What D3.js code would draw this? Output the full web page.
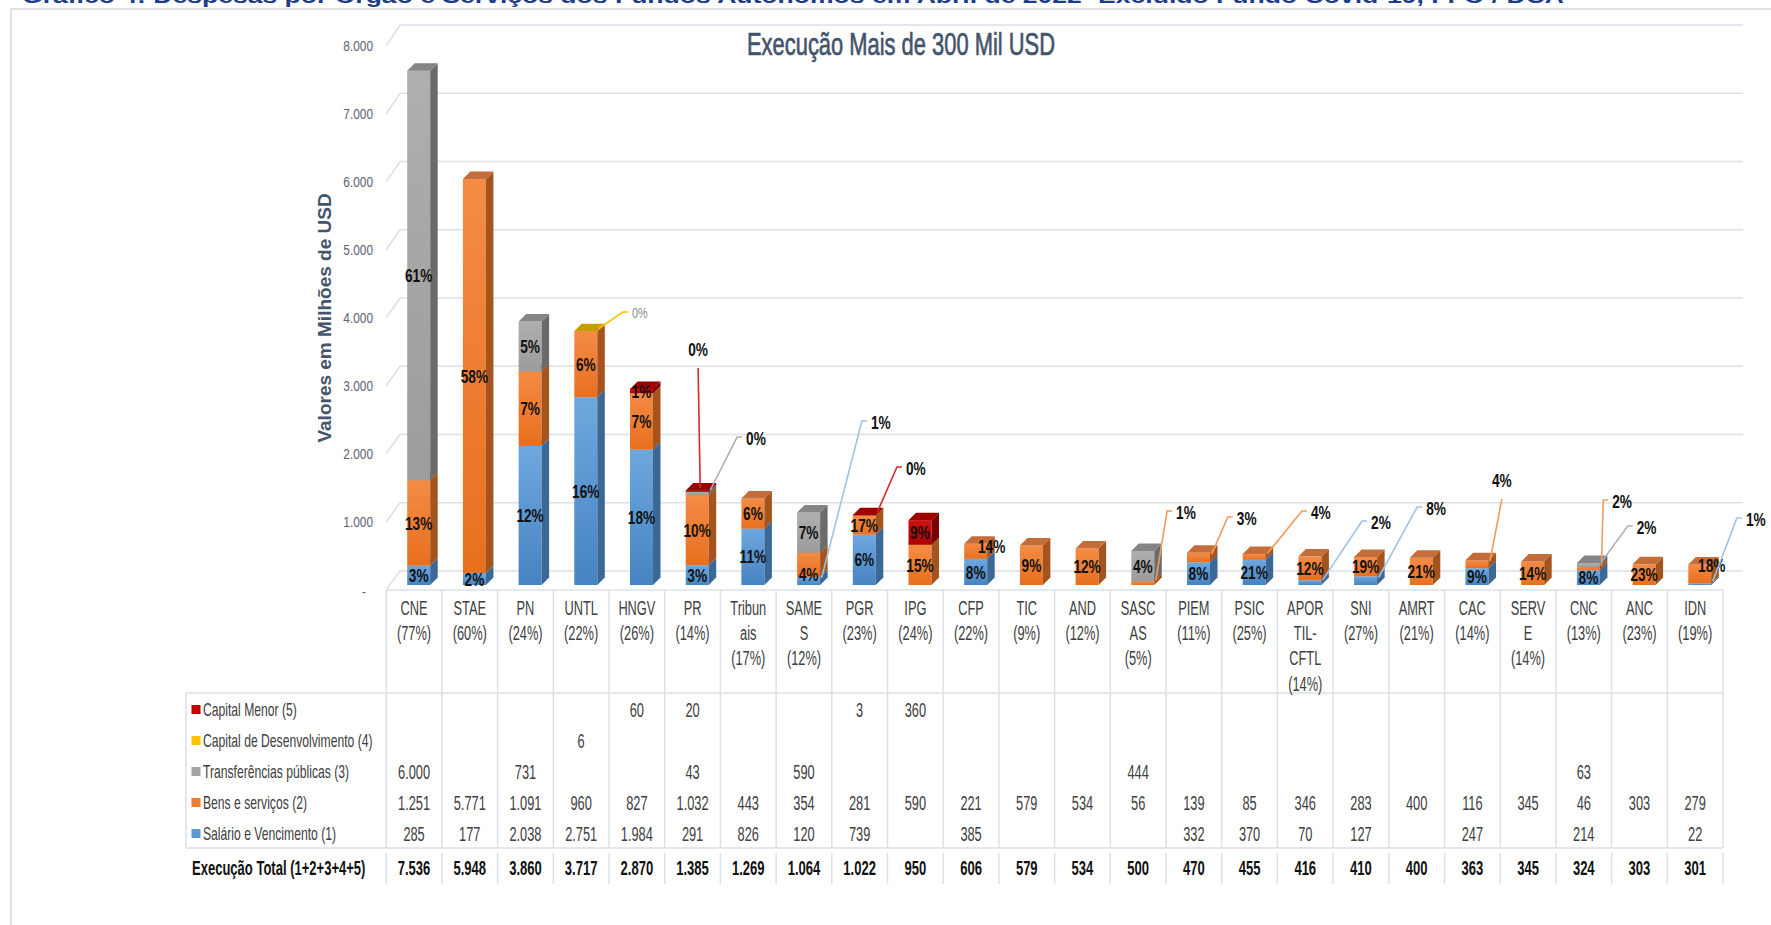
<!DOCTYPE html>
<html>
<head>
<meta charset="utf-8">
<script src="https://cdn.jsdelivr.net/npm/d3@7/dist/d3.min.js"></script>
<style>
  body { margin: 0; background: #fff; }
  svg { display: block; }
  .narrow, .wide { font-family: "Liberation Sans", Arial, sans-serif; }
</style>
</head>
<body>
<div id="chart"></div>
<script>
// categories (organs) and their execution rate shown under the name
const categories = ['CNE', 'STAE', 'PN', 'UNTL', 'HNGV', 'PR', 'Tribunais', 'SAMES', 'PGR', 'IPG', 'CFP', 'TIC',
  'AND', 'SASCAS', 'PIEM', 'PSIC', 'APORTIL-CFTL', 'SNI', 'AMRT', 'CAC', 'SERVE', 'CNC', 'ANC', 'IDN'];
const categoryTicks = [['CNE', '(77%)'], ['STAE', '(60%)'], ['PN', '(24%)'], ['UNTL', '(22%)'], ['HNGV', '(26%)'],
  ['PR', '(14%)'], ['Tribun', 'ais', '(17%)'], ['SAME', 'S', '(12%)'], ['PGR', '(23%)'], ['IPG', '(24%)'],
  ['CFP', '(22%)'], ['TIC', '(9%)'], ['AND', '(12%)'], ['SASC', 'AS', '(5%)'], ['PIEM', '(11%)'], ['PSIC', '(25%)'],
  ['APOR', 'TIL-', 'CFTL', '(14%)'], ['SNI', '(27%)'], ['AMRT', '(21%)'], ['CAC', '(14%)'], ['SERV', 'E', '(14%)'],
  ['CNC', '(13%)'], ['ANC', '(23%)'], ['IDN', '(19%)']];

// values in millions of USD, null = empty cell
const salario = [285, 177, 2038, 2751, 1984, 291, 826, 120, 739, null, 385, null, null, null, 332, 370, 70, 127, null, 247, null, 214, null, 22];
const bens = [1251, 5771, 1091, 960, 827, 1032, 443, 354, 281, 590, 221, 579, 534, 56, 139, 85, 346, 283, 400, 116, 345, 46, 303, 279];
const transferencias = [6000, null, 731, null, null, 43, null, 590, null, null, null, null, null, 444, null, null, null, null, null, null, null, 63, null, null];
const capitalDesenv = [null, null, null, 6, null, null, null, null, null, null, null, null, null, null, null, null, null, null, null, null, null, null, null, null];
const capitalMenor = [null, null, null, null, 60, 20, null, null, 3, 360, null, null, null, null, null, null, null, null, null, null, null, null, null, null];
const totals = [7536, 5948, 3860, 3717, 2870, 1385, 1269, 1064, 1022, 950, 606, 579, 534, 500, 470, 455, 416, 410, 400, 363, 345, 324, 303, 301];

// percentage data labels, as printed on each segment
const salarioPct = ['3%', '2%', '12%', '16%', '18%', '3%', '11%', '1%', '6%', '', '8%', '', '', '', '8%', '21%', '2%', '8%', '', '9%', '', '8%', '', '1%'];
const bensPct = ['13%', '58%', '7%', '6%', '7%', '10%', '6%', '4%', '17%', '15%', '14%', '9%', '12%', '1%', '3%', '4%', '12%', '19%', '21%', '4%', '14%', '2%', '23%', '18%'];
const transferenciasPct = ['61%', '', '5%', '', '', '0%', '', '7%', '', '', '', '', '', '4%', '', '', '', '', '', '', '', '2%', '', ''];
const capitalDesenvPct = ['', '', '', '0%', '', '', '', '', '', '', '', '', '', '', '', '', '', '', '', '', '', '', '', ''];
const capitalMenorPct = ['', '', '', '', '1%', '0%', '', '', '0%', '9%', '', '', '', '', '', '', '', '', '', '', '', '', '', ''];

const yTicks = [0, 1000, 2000, 3000, 4000, 5000, 6000, 7000, 8000];

const series = [
  { key: 'salario', name: 'Salário e Vencimento (1)', values: salario, pct: salarioPct },
  { key: 'bens', name: 'Bens e serviços (2)', values: bens, pct: bensPct },
  { key: 'transf', name: 'Transferências públicas (3)', values: transferencias, pct: transferenciasPct },
  { key: 'capDes', name: 'Capital de Desenvolvimento (4)', values: capitalDesenv, pct: capitalDesenvPct },
  { key: 'capMenor', name: 'Capital Menor (5)', values: capitalMenor, pct: capitalMenorPct }
];

const colors = {
  salario: { top: '#7AAEE0', f0: '#6FA8DE', f1: '#4683C2', side: '#3B6894', line: '#9DC3E6' },
  bens: { top: '#C46D3A', f0: '#F48B45', f1: '#E8701F', side: '#A6541E', line: '#F39A5C' },
  transf: { top: '#858585', f0: '#AFAFAF', f1: '#9C9C9C', side: '#6B6B6B', line: '#B0B0B0' },
  capDes: { top: '#C89B00', f0: '#FFC526', f1: '#F0B400', side: '#A88100', line: '#FFC000' },
  capMenor: { top: '#9C0000', f0: '#CC1010', f1: '#B00000', side: '#7A0000', line: '#D42A2A' }
};
const legendColor = { salario: '#5B9BD5', bens: '#ED7D31', transf: '#A5A5A5', capDes: '#FFC000', capMenor: '#C00000' };

// leader-line labels: elbow given as [band offset, value level]
const callouts = [
  { cat: 'UNTL', key: 'capDes', at: [1.25, 4000], faint: true },
  { cat: 'PR', key: 'capMenor', at: [0.6, 3180], above: true, from: -10 },
  { cat: 'PR', key: 'transf', at: [1.3, 2168] },
  { cat: 'SAMES', key: 'salario', at: [1.54, 2403] },
  { cat: 'PGR', key: 'capMenor', at: [1.17, 1729] },
  { cat: 'SASCAS', key: 'bens', at: [1.02, 1084] },
  { cat: 'PIEM', key: 'bens', at: [1.11, 996] },
  { cat: 'PSIC', key: 'bens', at: [1.44, 1084] },
  { cat: 'APORTIL-CFTL', key: 'salario', at: [1.52, 938] },
  { cat: 'SNI', key: 'salario', at: [1.51, 1143] },
  { cat: 'CAC', key: 'bens', at: [1.03, 1260], above: true },
  { cat: 'CNC', key: 'bens', at: [0.85, 1245] },
  { cat: 'CNC', key: 'transf', at: [1.29, 864] },
  { cat: 'IDN', key: 'salario', at: [1.25, 982] }
];
// a few in-bar labels sit off centre in the original
const labelNudges = [
  { cat: 'CFP', key: 'bens', dx: 16, dy: -5 },
  { cat: 'SAMES', key: 'bens', dx: 0, dy: 10 },
  { cat: 'IDN', key: 'bens', dx: 12, dy: -9 }
];

const W = 1771, H = 925;
const DX = 7.5, DY = 7.5;

const svg = d3.select('#chart').append('svg').attr('width', W).attr('height', H);
const defs = svg.append('defs');
series.forEach(s => {
  const g = defs.append('linearGradient').attr('id', 'grad-' + s.key)
    .attr('x1', 0).attr('y1', 0).attr('x2', 0).attr('y2', 1);
  g.append('stop').attr('offset', 0).attr('stop-color', colors[s.key].f0);
  g.append('stop').attr('offset', 1).attr('stop-color', colors[s.key].f1);
});

const fmt = d3.formatLocale({ decimal: ',', thousands: '.', grouping: [3], currency: ['', ''] }).format(',d');

// text squeezed horizontally to mimic the condensed face of the original
function txt(g, x, y, s, sx, cls, anchor) {
  return g.append('text')
    .attr('class', cls)
    .attr('transform', `translate(${x},${y}) scale(${sx},1)`)
    .attr('text-anchor', anchor || 'middle')
    .attr('dy', '0.35em')
    .text(s);
}

// frame + cut-off caption at the very top
svg.append('path').attr('d', `M11,${H}V9H${W}`).attr('fill', 'none').attr('stroke', '#D9D9D9').attr('stroke-width', 1.5);
svg.append('text').attr('class', 'wide').attr('x', 22).attr('y', 3)
  .attr('font-size', 20).attr('font-weight', 'bold').attr('fill', '#1F3C88')
  .attr('textLength', 1542).attr('lengthAdjust', 'spacingAndGlyphs')
  .text('Gráfico 4: Despesas por Órgão e Serviços dos Fundos Autónomos em Abril de 2022 -Excluído Fundo Covid-19, FFO / DCA');

// scales
const x = d3.scaleBand().domain(categories).range([386.2, 1723]).padding(0);
const bw = x.bandwidth();
const y = d3.scaleLinear().domain([0, 8000]).range([585, 39]);
const yBack = d3.scaleLinear().domain([0, 8000]).range([571, 25]);
const yFront = d3.scaleLinear().domain([0, 8000]).range([590, 46]);
const frontX = c => x(c) + bw * 0.377;
const frontW = bw * 0.413;

// back wall grid + left slants
const grid = svg.append('g').attr('fill', 'none').attr('stroke', '#DCE0E7').attr('stroke-width', 1.6);
yTicks.forEach(v => {
  grid.append('path').attr('d', `M386,${yFront(v)}L400,${yBack(v)}H1743`);
});

// y axis labels
const yAxis = svg.append('g').attr('transform', 'translate(373,0)')
  .call(d3.axisLeft(yFront).tickValues(yTicks).tickSize(0).tickPadding(0)
    .tickFormat(v => v === 0 ? '-' : fmt(v)));
yAxis.select('.domain').remove();
yAxis.selectAll('text').attr('class', 'narrow').attr('font-size', 15).attr('fill', '#5A6270')
  .attr('transform', d => d === 0 ? 'translate(-7,2) scale(0.79,1)' : 'scale(0.79,1)');

svg.append('text').attr('class', 'wide')
  .attr('transform', 'translate(324,318) rotate(-90)')
  .attr('text-anchor', 'middle').attr('dy', '0.35em')
  .attr('font-size', 19).attr('font-weight', 'bold').attr('fill', '#44546A')
  .text('Valores em Milhões de USD');

svg.append('text').attr('class', 'narrow')
  .attr('x', 901).attr('y', 55).attr('text-anchor', 'middle')
  .attr('font-size', 32).attr('fill', '#44546A').attr('stroke', '#44546A').attr('stroke-width', 0.7)
  .attr('textLength', 308).attr('lengthAdjust', 'spacingAndGlyphs')
  .text('Execução Mais de 300 Mil USD');

// stacked data
const rows = categories.map((c, i) => {
  const r = { cat: c };
  series.forEach(s => { r[s.key] = s.values[i] || 0; });
  return r;
});
const stacked = d3.stack().keys(series.map(s => s.key))(rows);

// 3D bars
const bars = svg.append('g');
categories.forEach((c, i) => {
  const g = bars.append('g');
  const x0 = frontX(c), x1 = x0 + frontW;
  stacked.forEach(layer => {
    const [v0, v1] = layer[i];
    if (v1 - v0 <= 0) return;
    const k = layer.key, ya = y(v0), yb = y(v1);
    g.append('rect').attr('x', x0).attr('y', yb).attr('width', frontW).attr('height', ya - yb)
      .attr('fill', `url(#grad-${k})`);
    g.append('path').attr('d', `M${x1},${yb}L${x1 + DX},${yb - DY}L${x1 + DX},${ya - DY}L${x1},${ya}Z`)
      .attr('fill', colors[k].side);
    g.append('path').attr('d', `M${x0},${yb}L${x1},${yb}L${x1 + DX},${yb - DY}L${x0 + DX},${yb - DY}Z`)
      .attr('fill', colors[k].top);
  });
});

// labels inside / next to bars
const labels = svg.append('g');
const isCallout = (c, k) => callouts.some(o => o.cat === c && o.key === k);
stacked.forEach(layer => {
  const s = series.find(d => d.key === layer.key);
  categories.forEach((c, i) => {
    const [v0, v1] = layer[i];
    const t = s.pct[i];
    if (!t || v1 - v0 <= 0 || isCallout(c, layer.key)) return;
    const n = labelNudges.find(o => o.cat === c && o.key === layer.key) || { dx: 0, dy: 0 };
    txt(labels, frontX(c) + frontW / 2 + n.dx, y((v0 + v1) / 2) + n.dy, t, 0.72, 'narrow', 'middle')
      .attr('font-size', 19).attr('font-weight', 'bold').attr('fill', '#111');
  });
});

callouts.forEach(o => {
  const i = categories.indexOf(o.cat);
  const layer = stacked.find(l => l.key === o.key);
  const s = series.find(d => d.key === o.key);
  const [v0, v1] = layer[i];
  const sx = frontX(o.cat) + frontW / 2 + 13 + (o.from || 0);
  const sy = y((v0 + v1) / 2) - 3;
  const ex = x(o.cat) + o.at[0] * bw, ey = y(o.at[1]);
  const path = o.above ? `M${sx},${sy}L${ex},${ey}` : `M${sx},${sy}L${ex},${ey}H${ex + 5}`;
  labels.append('path').attr('d', path).attr('fill', 'none')
    .attr('stroke', colors[o.key].line).attr('stroke-width', 1.6);
  const t = o.above
    ? txt(labels, ex, ey - 19, s.pct[i], 0.72, 'narrow', 'middle')
    : txt(labels, ex + 9, ey + 1, s.pct[i], 0.72, 'narrow', 'start');
  if (o.faint) t.attr('font-size', 15).attr('fill', '#8C8C8C');
  else t.attr('font-size', 19).attr('font-weight', 'bold').attr('fill', '#111');
});

// data table
const table = svg.append('g');
const rowOrder = series.slice().reverse();
const ry = d3.scaleBand().domain(rowOrder.map(s => s.key)).range([694, 849]);
const lineC = '#DCE0E7';
const tl = table.append('g').attr('stroke', lineC).attr('stroke-width', 1.5).attr('fill', 'none');
tl.append('path').attr('d', `M386,590H1723`);
tl.append('path').attr('d', `M186,693H1723M186,848H1723M186,693V848`);
categories.concat([null]).forEach(c => {
  const xx = c === null ? x.range()[1] : x(c);
  tl.append('path').attr('d', `M${xx},590V848`);
  tl.append('path').attr('d', `M${xx},853V884`);
});

categories.forEach((c, i) => {
  const cx = x(c) + bw / 2;
  categoryTicks[i].forEach((ln, j) => {
    txt(table, cx, 608 + j * 25.2, ln, 0.64, 'narrow', 'middle').attr('font-size', 20).attr('fill', '#404040');
  });
  rowOrder.forEach(s => {
    if (s.values[i] == null) return;
    txt(table, cx, ry(s.key) + ry.bandwidth() / 2, fmt(s.values[i]), 0.64, 'narrow', 'middle')
      .attr('font-size', 20).attr('fill', '#404040');
  });
  txt(table, cx, 868, fmt(totals[i]), 0.62, 'narrow', 'middle')
    .attr('font-size', 21).attr('font-weight', 'bold').attr('fill', '#111');
});

rowOrder.forEach(s => {
  const cy = ry(s.key) + ry.bandwidth() / 2;
  table.append('rect').attr('x', 191.5).attr('y', cy - 4.5).attr('width', 9).attr('height', 9)
    .attr('fill', legendColor[s.key]);
  txt(table, 203, cy, s.name, 0.64, 'narrow', 'start').attr('font-size', 19).attr('fill', '#404040');
});
txt(table, 192, 868, 'Execução Total (1+2+3+4+5)', 0.62, 'narrow', 'start')
  .attr('font-size', 21).attr('font-weight', 'bold').attr('fill', '#111');
</script>
</body>
</html>
